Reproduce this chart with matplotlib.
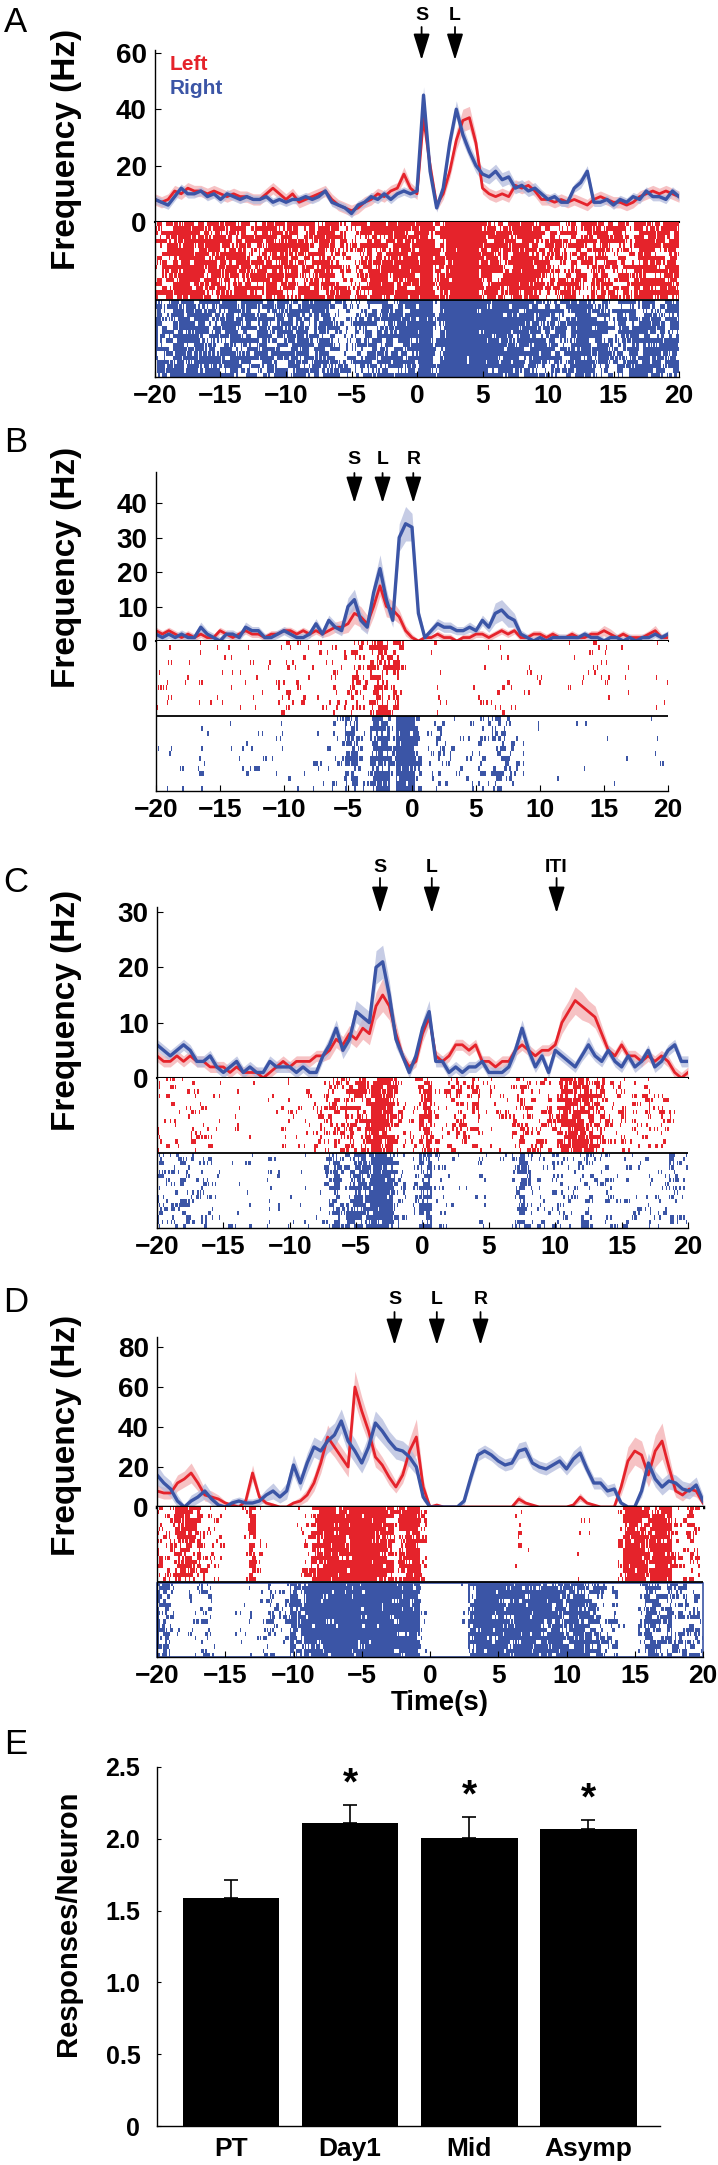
import numpy as np
import matplotlib
matplotlib.use('Agg')
import matplotlib.pyplot as plt
from matplotlib import transforms
from matplotlib.colors import to_rgb
from matplotlib.patches import FancyArrowPatch, Rectangle

plt.rcParams['font.family'] = ['Liberation Sans', 'DejaVu Sans']
plt.rcParams['font.weight'] = 'bold'

RED = '#e5232b'
BLUE = '#3b55a6'
RED_BAND = '#f4aeb1'
BLUE_BAND = '#b3bbdd'

# time bins (s), 0.5 s wide
t = np.arange(-20, 20.5, 0.5)

# ---- panel A ----
a_blue = [8, 7, 6, 9, 12, 10, 10, 11, 9, 10,
          8, 10, 9, 8, 9, 8, 8, 9, 7, 8,
          7, 8, 8, 9, 8, 9, 11, 7, 6, 5,
          3, 6, 7, 9, 8, 10, 8, 10, 11, 10,
          11, 45, 18, 5, 12, 28, 40, 31, 25, 20,
          17, 16, 18, 15, 16, 12, 13, 11, 12, 10,
          8, 9, 7, 7, 12, 14, 18, 7, 7, 8,
          6, 8, 7, 9, 8, 11, 9, 9, 8, 11,
          9]
a_red = [8, 7, 8, 11, 10, 12, 11, 11, 10, 11,
         10, 9, 10, 9, 9, 8, 8, 10, 12, 10,
         8, 10, 7, 8, 9, 10, 11, 8, 6, 5,
         4, 5, 7, 8, 10, 9, 11, 12, 17, 12,
         10, 37, 20, 6, 10, 18, 29, 36, 37, 28,
         12, 10, 9, 10, 9, 13, 12, 13, 11, 8,
         8, 7, 8, 7, 8, 7, 6, 8, 9, 8,
         7, 7, 6, 7, 9, 10, 11, 10, 11, 10,
         9]
a_blue_sem = [1.5, 1.5, 1.5, 1.5, 1.5, 1.5, 1.5, 1.5, 1.5, 1.5,
              1.5, 1.5, 1.5, 1.5, 1.5, 1.5, 1.5, 1.5, 1.5, 1.5,
              1.5, 1.5, 1.5, 1.5, 1.5, 1.5, 1.5, 1.5, 1.5, 1.5,
              1.5, 1.5, 1.5, 1.5, 1.5, 1.5, 1.5, 1.5, 1.5, 1.5,
              2.0, 3.0, 2.5, 1.5, 2.0, 2.5, 3.0, 3.0, 2.5, 2.5,
              2.5, 2.5, 2.5, 2.5, 2.5, 2.0, 2.0, 2.0, 2.0, 1.5,
              1.5, 1.5, 1.5, 1.5, 1.5, 2.0, 2.0, 1.5, 1.5, 1.5,
              1.5, 1.5, 1.5, 1.5, 1.5, 1.5, 1.5, 1.5, 1.5, 1.5,
              1.5]
a_red_sem = [2, 2, 2, 2, 2, 2, 2, 2, 2, 2,
             2, 2, 2, 2, 2, 2, 2, 2, 2, 2,
             2, 2, 2, 2, 2, 2, 2, 2, 2, 2,
             2, 2, 2, 2, 2, 2, 2, 2, 2.5, 2,
             2, 3, 2.5, 2, 2, 2.5, 3.5, 4, 4, 3,
             2, 2, 2, 2, 2, 2, 2, 2, 2, 2,
             2, 2, 2, 2, 2, 2, 2, 2, 2, 2,
             2, 2, 2, 2, 2, 2, 2, 2, 2, 2,
             2]
a_events = ['S', 'L']
a_event_t = [0.35, 2.9]

# ---- panel B ----
b_blue = [2, 1, 2, 1, 2, 1, 1, 4, 2, 1,
          0, 2, 2, 1, 4, 3, 3, 1, 1, 2,
          3, 2, 1, 1, 2, 5, 2, 6, 4, 3,
          10, 12, 6, 4, 14, 21, 12, 6, 30, 34,
          33, 8, 1, 3, 5, 4, 4, 3, 3, 4,
          3, 6, 4, 8, 9, 7, 6, 2, 1, 0,
          1, 0, 1, 1, 1, 1, 1, 2, 1, 1,
          0, 1, 1, 0, 1, 0, 1, 1, 2, 1,
          2]
b_red = [3, 2, 3, 2, 1, 2, 1, 2, 1, 1,
         3, 2, 1, 2, 3, 2, 2, 1, 2, 2,
         3, 3, 2, 3, 2, 3, 2, 3, 4, 4,
         5, 8, 7, 5, 10, 16, 10, 9, 7, 3,
         1, 0, 1, 1, 2, 1, 1, 0, 1, 1,
         2, 2, 1, 2, 3, 2, 3, 1, 1, 2,
         2, 1, 2, 1, 1, 2, 1, 1, 2, 2,
         3, 2, 1, 2, 1, 1, 1, 2, 3, 1,
         1]
b_blue_sem = [1.2, 1.2, 1.2, 1.2, 1.2, 1.2, 1.2, 1.5, 1.2, 1.2,
              1.2, 1.2, 1.2, 1.2, 1.5, 1.2, 1.2, 1.2, 1.2, 1.2,
              1.2, 1.2, 1.2, 1.2, 1.2, 1.5, 1.2, 1.5, 1.5, 1.5,
              2.5, 3, 2.5, 2, 3, 4, 3, 2, 4, 5,
              4, 2, 1, 1.2, 1.5, 1.5, 1.5, 1.2, 1.2, 1.5,
              1.2, 1.5, 1.5, 3, 3, 3, 2, 1.2, 1, 1,
              1, 1, 1, 1, 1, 1, 1, 1, 1, 1,
              1, 1, 1, 1, 1, 1, 1, 1, 1, 1,
              1]
b_red_sem = [1, 1, 1, 1, 1, 1, 1, 1, 1, 1,
             1, 1, 1, 1, 1, 1, 1, 1, 1, 1,
             1, 1, 1, 1, 1, 1, 1, 1.5, 1.5, 2,
             2.5, 3, 3, 2.5, 3, 3, 3, 2.5, 2, 1.5,
             1, 0.5, 0.5, 0.5, 1, 1, 1, 0.5, 1, 1,
             1, 1, 1, 1, 1, 1, 1, 1, 1, 1,
             1, 1, 1, 1, 1, 1, 1, 1, 1, 1,
             1.5, 1.5, 1, 1, 1, 1, 1, 1, 1.5, 1,
             1]
b_events = ['S', 'L', 'R']
b_event_t = [-4.5, -2.3, 0.1]

# ---- panel C ----
c_blue = [6, 5, 4, 5, 6, 5, 3, 3, 4, 2,
          1, 2, 3, 1, 2, 1, 1, 3, 2, 2,
          2, 1, 2, 1, 1, 4, 6, 9, 5, 7,
          12, 11, 10, 20, 21, 15, 7, 4, 1, 4,
          9, 12, 3, 3, 1, 2, 1, 2, 2, 3,
          1, 1, 1, 2, 5, 9, 5, 2, 4, 1,
          5, 4, 3, 2, 4, 6, 4, 3, 5, 3,
          2, 4, 2, 3, 5, 2, 3, 5, 6, 3,
          3]
c_red = [4, 3, 3, 4, 3, 4, 3, 3, 2, 2,
         2, 1, 2, 1, 1, 1, 0, 1, 2, 3,
         2, 3, 3, 3, 4, 4, 5, 7, 6, 8,
         7, 9, 8, 13, 15, 13, 8, 4, 2, 3,
         8, 11, 4, 3, 4, 6, 6, 5, 6, 3,
         3, 2, 3, 3, 5, 6, 5, 4, 5, 5,
         6, 10, 12, 14, 13, 12, 11, 8, 5, 4,
         6, 4, 4, 3, 4, 3, 4, 3, 1, 0,
         1]
c_blue_sem = [1, 1, 1, 1, 1, 1, 1, 1, 1, 1,
              1, 1, 1, 1, 1, 1, 1, 1, 1, 1,
              1, 1, 1, 1, 1, 1, 1.5, 1.5, 1.5, 1.5,
              2, 2, 2, 3, 3, 2.5, 1.5, 1, 1, 1,
              1.5, 2, 1, 1, 1, 1, 1, 1, 1, 1,
              1, 1, 1, 1, 1.5, 1.5, 1.5, 1, 1, 1,
              1, 1, 1, 1, 1, 1.5, 1, 1, 1, 1,
              1, 1, 1, 1, 1, 1, 1, 1, 1, 1,
              1]
c_red_sem = [1, 1, 1, 1, 1, 1, 1, 1, 1, 1,
             1, 1, 1, 1, 1, 1, 1, 1, 1, 1,
             1, 1, 1, 1, 1, 1, 1.5, 1.5, 1.5, 1.5,
             1.5, 2, 2, 2.5, 3, 2.5, 2, 1, 1, 1,
             1.5, 1.5, 1, 1, 1, 1, 1, 1, 1, 1,
             1, 1, 1, 1, 1, 1, 1, 1, 1, 1,
             1, 2, 2, 2.5, 2.5, 2, 2, 1.5, 1, 1,
             1, 1, 1, 1, 1, 1, 1, 1, 1, 1,
             1]
c_events = ['S', 'L', 'ITI']
c_event_t = [-3.2, 0.7, 10.1]

# ---- panel D ----
d_blue = [16, 12, 9, 3, 0, 3, 5, 8, 4, 1,
          0, 2, 3, 2, 2, 3, 6, 8, 5, 8,
          21, 12, 22, 30, 28, 33, 36, 43, 33, 28,
          22, 30, 42, 38, 33, 29, 28, 25, 20, 5,
          0, 0, 0, 0, 0, 3, 15, 26, 28, 26,
          23, 21, 22, 28, 29, 22, 20, 19, 21, 23,
          19, 24, 27, 19, 12, 12, 8, 9, 2, 0,
          0, 8, 22, 14, 10, 13, 12, 9, 8, 11,
          3]
d_red = [8, 7, 7, 12, 14, 17, 12, 6, 5, 4,
         2, 1, 0, 3, 17, 5, 2, 1, 0, 0,
         2, 3, 6, 12, 22, 35, 30, 25, 20, 60,
         48, 38, 25, 21, 15, 10, 16, 28, 35, 10,
         0, 1, 0, 0, 0, 0, 0, 0, 0, 0,
         0, 0, 0, 4, 2, 1, 0, 0, 0, 0,
         0, 1, 5, 2, 1, 0, 0, 0, 10, 23,
         28, 26, 16, 28, 33, 20, 8, 6, 9, 8,
         2]
d_blue_sem = [5, 4, 4, 3, 1, 3, 3, 4, 3, 1,
              1, 2, 2, 2, 2, 2, 3, 4, 3, 4,
              5, 4, 5, 5, 5, 6, 6, 6, 6, 6,
              5, 6, 6, 6, 5, 5, 5, 5, 4, 2,
              0.5, 0.5, 0.5, 0.5, 0.5, 2, 3, 3, 3, 3,
              3, 3, 3, 4, 4, 3, 3, 3, 3, 3,
              3, 4, 4, 3, 3, 3, 3, 3, 1, 0.5,
              0.5, 3, 5, 4, 4, 4, 4, 4, 4, 4,
              3]
d_red_sem = [3, 3, 3, 4, 4, 5, 4, 3, 3, 2,
             1, 1, 0.5, 2, 4, 2, 1, 1, 0.5, 0.5,
             1, 2, 3, 4, 5, 6, 5, 5, 5, 8,
             7, 6, 5, 4, 4, 3, 4, 6, 9, 4,
             0.5, 0.5, 0.3, 0.3, 0.3, 0.3, 0.3, 0.3, 0.3, 0.3,
             0.3, 0.3, 0.3, 2, 1, 0.5, 0.3, 0.3, 0.3, 0.3,
             0.3, 1, 2, 1, 0.5, 0.3, 0.3, 0.3, 4, 7,
             7, 7, 6, 8, 9, 6, 3, 3, 3, 3,
             1]
d_events = ['S', 'L', 'R']
d_event_t = [-2.6, 0.5, 3.7]

# ---- panel E ----
e_groups = ['PT', 'Day1', 'Mid', 'Asymp']
e_mean = [1.59, 2.11, 2.005, 2.07]
e_err = [0.12, 0.125, 0.145, 0.06]
e_sig = ['', '*', '*', '*']

W, H = 718, 2165
fig = plt.figure(figsize=(W / 100, H / 100), dpi=100)


def add_ax(x0, y0, x1, y1):
    return fig.add_axes([x0 / W, 1 - y1 / H, (x1 - x0) / W, (y1 - y0) / H])


def mix01(key):
    # splitmix64 style integer mixing -> [0,1), a fixed dither threshold
    z = key.astype(np.uint64) + np.uint64(0x9E3779B97F4A7C15)
    z = (z ^ (z >> np.uint64(30))) * np.uint64(0xBF58476D1CE4E5B9)
    z = (z ^ (z >> np.uint64(27))) * np.uint64(0x94D049BB133111EB)
    z = z ^ (z >> np.uint64(31))
    return (z >> np.uint64(11)).astype(float) / float(2 ** 53)


def raster(ax, rate, k, n, row0, color, salt):
    # trials x 0.1 s cells, filled where the binned rate passes a fixed dither
    cols = np.repeat(np.array(rate, dtype=float), 5)
    p = 1 - np.exp(-k * cols)
    c = np.arange(cols.size)
    img = np.ones((n, cols.size, 3))
    rgb = np.array(to_rgb(color))
    for r in range(n):
        base = (salt * 1000 + r) * 100000
        thr = 0.55 * mix01(base + c // 4 + 50000) + 0.45 * mix01(base + c)
        img[r, p > thr] = rgb
    ax.imshow(img, extent=[-20.25, 20.25, row0 + n, row0], aspect='auto',
              interpolation='nearest')


def psth_panel(letter, letter_y, box, ytop, yticks, red, blue, red_sem, blue_sem,
               k, ntr, events, event_t, lab_y, arr_y0, arr_y1, ylab_y, zero_lw=1.5, salt=1):
    x0, y_top, x1, y_zero, y_bot = box
    ax = add_ax(x0, y_top, x1, y_zero)
    red = np.array(red, dtype=float)
    blue = np.array(blue, dtype=float)
    rs = np.array(red_sem, dtype=float)
    bs = np.array(blue_sem, dtype=float)
    ax.fill_between(t, np.clip(red - rs, 0, None), red + rs, color=RED_BAND, alpha=0.75, lw=0)
    ax.fill_between(t, np.clip(blue - bs, 0, None), blue + bs, color=BLUE_BAND, alpha=0.75, lw=0)
    ax.plot(t, red, color=RED, lw=2.0)
    ax.plot(t, blue, color=BLUE, lw=2.4)
    ax.set_xlim(-20, 20)
    ax.set_ylim(0, ytop)
    ax.set_yticks(yticks)
    ax.set_xticks([])
    ax.spines['top'].set_visible(False)
    ax.spines['right'].set_visible(False)
    ax.spines['bottom'].set_linewidth(zero_lw)
    ax.spines['left'].set_linewidth(1.0)
    ax.tick_params(axis='y', direction='in', length=4, labelsize=20, pad=6)

    rx = add_ax(x0, y_zero, x1, y_bot)
    raster(rx, red, k, ntr, 0, RED, salt)
    raster(rx, blue, k, ntr, ntr + 0.4, BLUE, salt + 101)
    rx.axhline(ntr + 0.2, color='black', lw=1.3)
    rx.set_xlim(-20, 20)
    rx.set_ylim(2 * ntr + 0.4, 0)
    rx.set_yticks([])
    rx.set_xticks([-20, -15, -10, -5, 0, 5, 10, 15, 20])
    rx.set_xticklabels(['\u221220', '\u221215', '\u221210', '\u22125', '0', '5', '10', '15', '20'])
    rx.tick_params(axis='x', direction='in', length=4, labelsize=19, pad=5)
    rx.spines['top'].set_visible(False)
    rx.spines['right'].set_visible(False)
    rx.spines['left'].set_linewidth(1.0)
    rx.spines['bottom'].set_linewidth(1.0)

    tr = transforms.blended_transform_factory(ax.transData, fig.transFigure)
    for name, te in zip(events, event_t):
        ax.text(te, 1 - lab_y / H, name, transform=tr, ha='center', va='center',
                fontsize=14, fontweight='bold', clip_on=False)
        arr = FancyArrowPatch((te, 1 - arr_y0 / H), (te, 1 - arr_y1 / H), transform=tr,
                              arrowstyle='-|>,head_length=0.9,head_width=0.28', mutation_scale=18,
                              color='black', lw=1.3, shrinkA=0, shrinkB=0, clip_on=False)
        fig.patches.append(arr)

    fig.text(16 / W, 1 - letter_y / H, letter, fontsize=25, fontweight='normal',
             ha='center', va='center')
    fig.text(67 / W, 1 - ylab_y / H, 'Frequency (Hz)', rotation=90, fontsize=24,
             fontweight='bold', ha='center', va='center')
    return ax, rx


axA, rxA = psth_panel('A', 22, (155, 50, 679, 222, 377), 61, [0, 20, 40, 60],
                      a_red, a_blue, a_red_sem, a_blue_sem, 0.11, 18,
                      a_events, a_event_t, 15, 27, 60, 149, salt=3)
fig.text(170 / W, 1 - 65 / H, 'Left', color=RED, fontsize=15, fontweight='bold',
         ha='left', va='center')
fig.text(170 / W, 1 - 88 / H, 'Right', color=BLUE, fontsize=15, fontweight='bold',
         ha='left', va='center')

axB, rxB = psth_panel('B', 443, (156, 472, 668, 641, 791), 49, [0, 10, 20, 30, 40],
                      b_red, b_blue, b_red_sem, b_blue_sem, 0.07, 15,
                      b_events, b_event_t, 460, 473, 503, 567, salt=11)

axC, rxC = psth_panel('C', 882, (157, 907, 688, 1078, 1228), 30.9, [0, 10, 20, 30],
                      c_red, c_blue, c_red_sem, c_blue_sem, 0.085, 18,
                      c_events, c_event_t, 868, 878, 913, 1010, salt=23)

axD, rxD = psth_panel('D', 1303, (157, 1337, 703, 1507, 1657), 85, [0, 20, 40, 60, 80],
                      d_red, d_blue, d_red_sem, d_blue_sem, 0.06, 18,
                      d_events, d_event_t, 1300, 1312, 1345, 1435, zero_lw=2.5, salt=37)
rxD.add_patch(Rectangle((-20, 18.4), 40, 18, fill=False, edgecolor=BLUE, lw=1.2, clip_on=False))
fig.text(440 / W, 1 - 1703 / H, 'Time(s)', fontsize=20, fontweight='bold',
         ha='center', va='center')

# ---- E bar chart ----
axE = add_ax(157, 1767, 660, 2126)
xpos = np.arange(len(e_groups))
axE.bar(xpos, e_mean, width=0.81, color='black')
axE.errorbar(xpos, e_mean, yerr=[np.zeros(len(e_err)), e_err], fmt='none',
             ecolor='black', elinewidth=1.2, capsize=5, capthick=1.2)
for xi, m, e, s in zip(xpos, e_mean, e_err, e_sig):
    if s:
        axE.text(xi, m + e + 0.02, s, ha='center', va='bottom', fontsize=28,
                 fontweight='bold')
axE.set_xlim(-0.62, 3.6)
axE.set_ylim(0, 2.5)
axE.set_xticks(xpos)
axE.set_xticklabels(e_groups)
axE.set_yticks([0, 0.5, 1.0, 1.5, 2.0, 2.5])
axE.set_yticklabels(['0', '0.5', '1.0', '1.5', '2.0', '2.5'])
axE.tick_params(axis='x', length=0, labelsize=19, pad=8)
axE.tick_params(axis='y', direction='in', length=3, labelsize=18, pad=12)
axE.spines['top'].set_visible(False)
axE.spines['right'].set_visible(False)
axE.spines['left'].set_linewidth(1.0)
axE.spines['bottom'].set_linewidth(1.0)
fig.text(16 / W, 1 - 1745 / H, 'E', fontsize=25, fontweight='normal',
         ha='center', va='center')
fig.text(68 / W, 1 - 1923 / H, 'Responses/Neuron', rotation=90, fontsize=21,
         fontweight='bold', ha='center', va='center')

fig.savefig('out.png', dpi=100)
